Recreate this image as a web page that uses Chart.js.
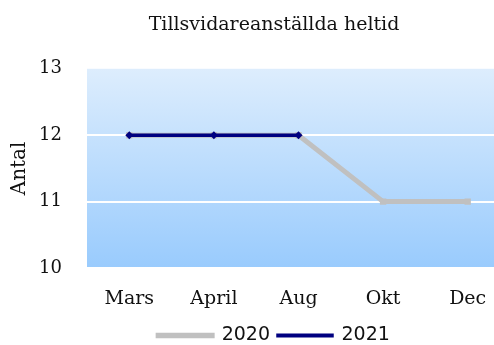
<!DOCTYPE html>
<html>
<head>
<meta charset="utf-8">
<script src="https://cdn.jsdelivr.net/npm/chart.js@4/dist/chart.umd.min.js"></script>
<style>
  html, body { margin: 0; padding: 0; background: #fff; }
  #wrap { width: 494px; height: 345px; overflow: hidden; }
</style>
</head>
<body>
<div id="wrap"><canvas id="chart" width="548" height="355"></canvas></div>
<script>
const months = ["Mars", "April", "Aug", "Okt", "Dec"];
const yTicks = [10, 11, 12, 13];
const values2020 = [12, 12, 12, 11, 11];
const values2021 = [12, 12, 12, null, null];

const serif = "'DejaVu Serif', serif";

// light-to-deeper blue fill behind the plot
const plotBackground = {
    id: "plotBackground",
    beforeDraw(chart){
        const {ctx, chartArea: a} = chart;
        const g = ctx.createLinearGradient(0, a.top, 0, a.bottom);
        g.addColorStop(0, "rgb(221, 237, 253)");
        g.addColorStop(1, "rgb(153, 203, 253)");
        ctx.save();
        ctx.fillStyle = g;
        ctx.fillRect(a.left, a.top, a.right - a.left, a.bottom - a.top);
        ctx.restore();
    }
};

new Chart(document.getElementById("chart"), {
    type: "line",
    data: {
        labels: months,
        datasets: [
            {
                label: "2020",
                data: values2020,
                order: 1,
                borderColor: "#c0c0c0",
                backgroundColor: "#c0c0c0",
                borderWidth: 5,
                tension: 0,
                pointStyle: "rect",
                pointRadius: 4.5,
                pointBorderWidth: 0,
                pointBackgroundColor: "#c0c0c0"
            },
            {
                label: "2021",
                data: values2021,
                order: 0,
                borderColor: "#000080",
                backgroundColor: "#000080",
                borderWidth: 3.5,
                tension: 0,
                pointStyle: "rectRot",
                pointRadius: 4,
                pointBorderWidth: 0,
                pointBackgroundColor: "#000080"
            }
        ]
    },
    options: {
        responsive: false,
        animation: false,
        layout: { padding: 0 },
        plugins: {
            title: {
                display: true,
                text: "Tillsvidareanställda heltid",
                color: "#111",
                font: { family: serif, size: 19, weight: "normal" },
                padding: { top: 14, bottom: 32 }
            },
            legend: {
                position: "bottom",
                reverse: true,
                labels: {
                    color: "#111",
                    font: { family: "'DejaVu Sans', sans-serif", size: 19 },
                    boxWidth: 54,
                    boxHeight: 0.5,
                    padding: 8
                }
            },
            tooltip: { enabled: false }
        },
        scales: {
            x: {
                offset: true,
                grid: { display: false, drawTicks: false },
                border: { display: false },
                ticks: {
                    color: "#111",
                    font: { family: serif, size: 19 },
                    padding: 20,
                    maxRotation: 0
                },
                afterFit: s => { s.height = 50; }
            },
            y: {
                min: yTicks[0],
                max: yTicks[yTicks.length - 1],
                afterBuildTicks: s => { s.ticks = yTicks.map(v => ({value: v})); },
                grid: {
                    drawTicks: false,
                    lineWidth: 2,
                    color: c => c.tick && c.tick.value === 13 ? "rgba(0,0,0,0)" : "#ffffff"
                },
                border: { display: false },
                ticks: {
                    color: "#111",
                    font: { family: serif, size: 18 },
                    padding: 25
                },
                title: {
                    display: true,
                    text: "Antal",
                    color: "#111",
                    font: { family: serif, size: 20 },
                    padding: { top: 8, bottom: 0 }
                },
                afterFit: s => { s.width = 87; }
            },
            // empty axis on the right that holds the plot's right edge
            yRight: {
                position: "right",
                display: true,
                grid: { display: false },
                border: { display: false },
                ticks: { display: false },
                afterFit: s => { s.width = 38; }
            }
        }
    },
    plugins: [plotBackground]
});
</script>
</body>
</html>
